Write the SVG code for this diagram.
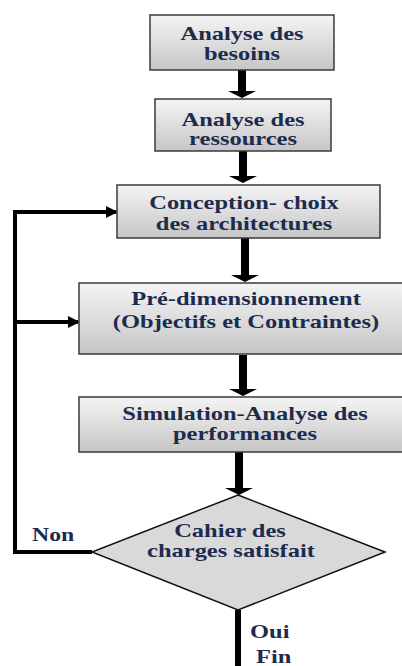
<svg xmlns="http://www.w3.org/2000/svg" width="402" height="666" viewBox="0 0 402 666">
<defs>
<linearGradient id="g" x1="0" y1="0" x2="0" y2="1">
<stop offset="0" stop-color="#f4f4f4"/>
<stop offset="1" stop-color="#c6c6c6"/>
</linearGradient>
<marker id="ah" markerWidth="3" markerHeight="3" refX="2.5" refY="1.5" orient="auto" markerUnits="strokeWidth">
<path d="M0,0 L3,1.5 L0,3 Z" fill="#000"/>
</marker>
<style>
.box{fill:url(#g);stroke:#3a3a3a;stroke-width:1.5}
.dia{fill:#d9d9d9;stroke:#111;stroke-width:1.5}
text{font-family:'Liberation Serif','Times New Roman','DejaVu Serif',serif;font-weight:700;font-size:18px;fill:#1d2b4f}
.t{text-anchor:middle}
.blk{fill:#000}
.ln{fill:none;stroke:#000;stroke-width:4}
</style>
</defs>
<rect width="402" height="666" fill="#fff"/>
<g id="connectors">
<path class="blk" d="M238,70 h8 v21 h10 l-14,7 l-14,-7 h10 z"/>
<path class="blk" d="M239,151 h8 v25 h10 l-14,7 l-14,-7 h10 z"/>
<path class="blk" d="M241,238 h8 v37 h10 l-14,7 l-14,-7 h10 z"/>
<path class="blk" d="M239,355 h8 v34 h10 l-14,7 l-14,-7 h10 z"/>
<path class="blk" d="M235,452 h8 v36 h10 l-14,7 l-14,-7 h10 z"/>
<polyline class="ln" points="92,552 15,552 15,212 116,212" marker-end="url(#ah)"/>
<line class="ln" x1="15" y1="322" x2="78" y2="322" marker-end="url(#ah)"/>
<rect class="blk" x="235" y="610" width="6" height="56"/>
</g>
<g id="n1">
<rect class="box" x="150" y="15" width="184" height="55"/>
<text class="t" font-family="Liberation Serif, serif" transform="translate(242,40) scale(1.36,1)">Analyse des</text>
<text class="t" font-family="Liberation Serif, serif" transform="translate(242,60) scale(1.36,1)">besoins</text>
</g>
<g id="n2">
<rect class="box" x="155" y="99" width="176" height="52"/>
<text class="t" transform="translate(243,126) scale(1.36,1)">Analyse des</text>
<text class="t" transform="translate(243,145) scale(1.36,1)">ressources</text>
</g>
<g id="n3">
<rect class="box" x="117" y="185" width="263" height="53"/>
<text class="t" transform="translate(244,209) scale(1.36,1)">Conception- choix</text>
<text class="t" transform="translate(244,230) scale(1.36,1)">des architectures</text>
</g>
<g id="n4">
<rect class="box" x="79" y="283" width="330" height="71"/>
<text class="t" transform="translate(246,305) scale(1.36,1)">Pré-dimensionnement</text>
<text class="t" transform="translate(246,328) scale(1.36,1)">(Objectifs et Contraintes)</text>
</g>
<g id="n5">
<rect class="box" x="79" y="397" width="330" height="55"/>
<text class="t" transform="translate(245,420) scale(1.36,1)">Simulation-Analyse des</text>
<text class="t" transform="translate(245,440) scale(1.36,1)">performances</text>
</g>
<g id="n6">
<polygon class="dia" points="238,495 385,552 238,610 92,552"/>
<text class="t" transform="translate(230,537) scale(1.36,1)">Cahier des</text>
<text class="t" transform="translate(231,557) scale(1.36,1)">charges satisfait</text>
</g>
<g id="labels">
<text transform="translate(32,541) scale(1.32,1)">Non</text>
<text transform="translate(250,638) scale(1.36,1)">Oui</text>
<text transform="translate(256,663) scale(1.36,1)">Fin</text>
</g>
</svg>
